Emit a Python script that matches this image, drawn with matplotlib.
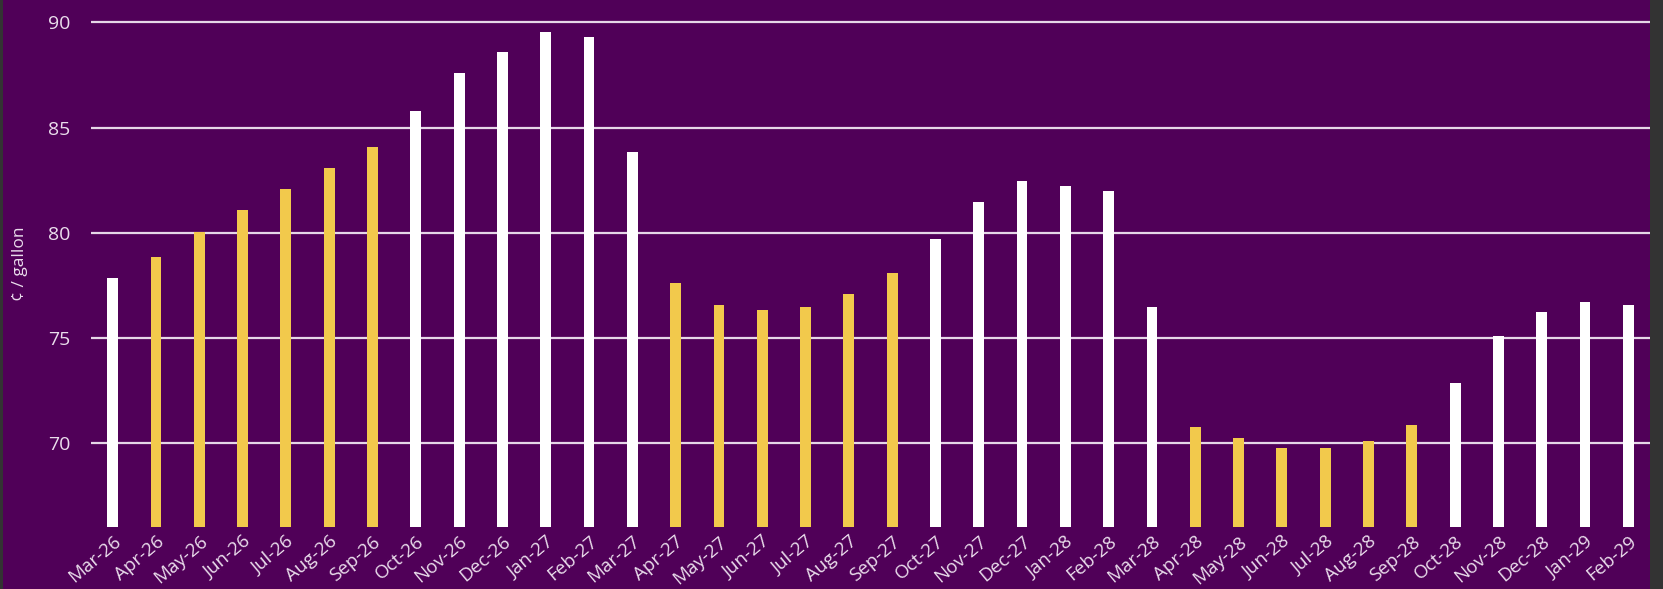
import matplotlib.pyplot as plt
from matplotlib.patches import Rectangle

months = ['Mar-26', 'Apr-26', 'May-26', 'Jun-26', 'Jul-26', 'Aug-26', 'Sep-26',
          'Oct-26', 'Nov-26', 'Dec-26', 'Jan-27', 'Feb-27', 'Mar-27', 'Apr-27',
          'May-27', 'Jun-27', 'Jul-27', 'Aug-27', 'Sep-27', 'Oct-27', 'Nov-27',
          'Dec-27', 'Jan-28', 'Feb-28', 'Mar-28', 'Apr-28', 'May-28', 'Jun-28',
          'Jul-28', 'Aug-28', 'Sep-28', 'Oct-28', 'Nov-28', 'Dec-28', 'Jan-29',
          'Feb-29']
price = [77.85, 78.85, 80.05, 81.07, 82.08, 83.08, 84.08,
         85.81, 87.59, 88.58, 89.56, 89.33, 83.82, 77.60,
         76.58, 76.34, 76.48, 77.08, 78.10, 79.71, 81.47,
         82.46, 82.23, 81.99, 76.48, 70.74, 70.22, 69.74,
         69.74, 70.10, 70.83, 72.86, 75.09, 76.25, 76.72,
         76.58]
summer = ['Apr', 'May', 'Jun', 'Jul', 'Aug', 'Sep']

purple = '#500058'
gold = '#F2C94C'
text_col = '#EADDEC'

W, H = 1663, 589
fig = plt.figure(figsize=(W / 100, H / 100), dpi=100, facecolor='#333333')
fig.patches.append(Rectangle((3 / W, 0), 1647 / W, 1, transform=fig.transFigure,
                             facecolor=purple, edgecolor='none', zorder=-5))

ax = fig.add_axes([91 / W, (H - 527) / H, (1650 - 91) / W, 527 / H])
ax.set_facecolor('none')

x = list(range(len(months)))
colors = [gold if m[:3] in summer else 'white' for m in months]
ax.bar(x, [p - 66 for p in price], bottom=66, width=0.25, color=colors, zorder=3)

ax.set_xlim(-0.5, len(months) - 0.5)
ax.set_ylim(66, 91.07)
ax.set_yticks([70, 75, 80, 85, 90])
ax.yaxis.grid(True, color='#E6D7E8', linewidth=1.6, zorder=1)
ax.set_axisbelow(True)

for s in ax.spines.values():
    s.set_visible(False)

ax.tick_params(axis='both', length=0, colors=text_col)
ax.tick_params(axis='y', labelsize=14, pad=15)
ax.tick_params(axis='x', pad=4)
ax.set_xticks(x)
ax.set_xticklabels(months, rotation=40, ha='right', rotation_mode='anchor',
                   fontsize=13.5, family='Open Sans')
for t in ax.get_yticklabels():
    t.set_family('Open Sans')

ax.set_ylabel('¢ / gallon', color=text_col, fontsize=12.5, family='Open Sans',
              labelpad=14)

fig.savefig('out.png', dpi=100, facecolor=fig.get_facecolor())
